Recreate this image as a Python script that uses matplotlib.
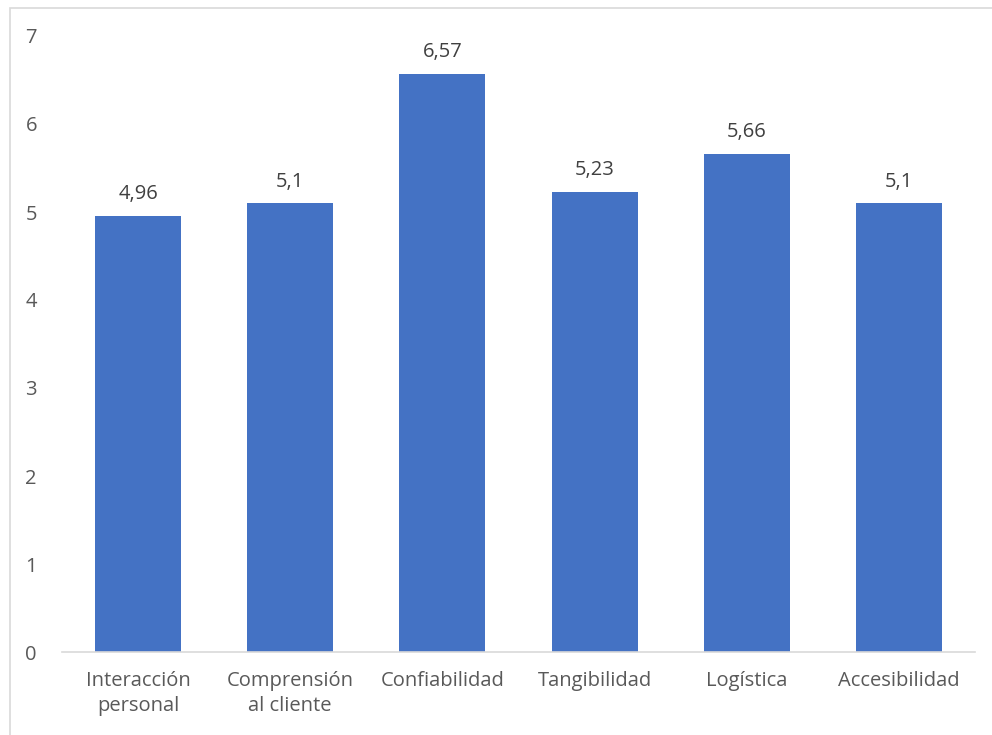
import matplotlib.pyplot as plt
from matplotlib.patches import Rectangle

# Datos del grafico
categorias = ["Interacción\npersonal", "Comprensión\nal cliente", "Confiabilidad",
              "Tangibilidad", "Logística", "Accesibilidad"]
valores = [4.96, 5.1, 6.57, 5.23, 5.66, 5.1]
etiquetas = ["4,96", "5,1", "6,57", "5,23", "5,66", "5,1"]

plt.rcParams['font.family'] = ['Open Sans', 'DejaVu Sans']
gris = "#595959"
fs = 14.5

fig = plt.figure(figsize=(9.92, 7.35), dpi=100)
ax = fig.add_axes([62/992, 83/735, (975-62)/992, (652-36)/735])

# Borde del area del grafico
fig.patches.append(Rectangle((10/992, -0.05), 1.2, 0.05 + (735-7.5)/735,
                             transform=fig.transFigure, fill=False,
                             edgecolor="#d9d9d9", linewidth=1.2))

x = range(len(categorias))
ax.bar(x, valores, width=0.566, color="#4472c4")
for xi, v, t in zip(x, valores, etiquetas):
    ax.text(xi, v + 0.13, t, ha="center", va="bottom", fontsize=fs, color="#404040")

ax.set_xlim(-0.5, len(categorias) - 0.5)
ax.set_ylim(0, 7)
ax.set_yticks(range(0, 8))
ax.set_xticks(list(x))
ax.set_xticklabels(categorias, fontsize=fs, color=gris, linespacing=1.3)
ax.tick_params(axis="y", length=0, pad=18, labelsize=fs, labelcolor=gris)
ax.tick_params(axis="x", length=0, pad=14)

for s in ["top", "right", "left"]:
    ax.spines[s].set_visible(False)
ax.spines["bottom"].set_color("#d9d9d9")
ax.spines["bottom"].set_linewidth(1.2)

fig.savefig("out.png", dpi=100)
